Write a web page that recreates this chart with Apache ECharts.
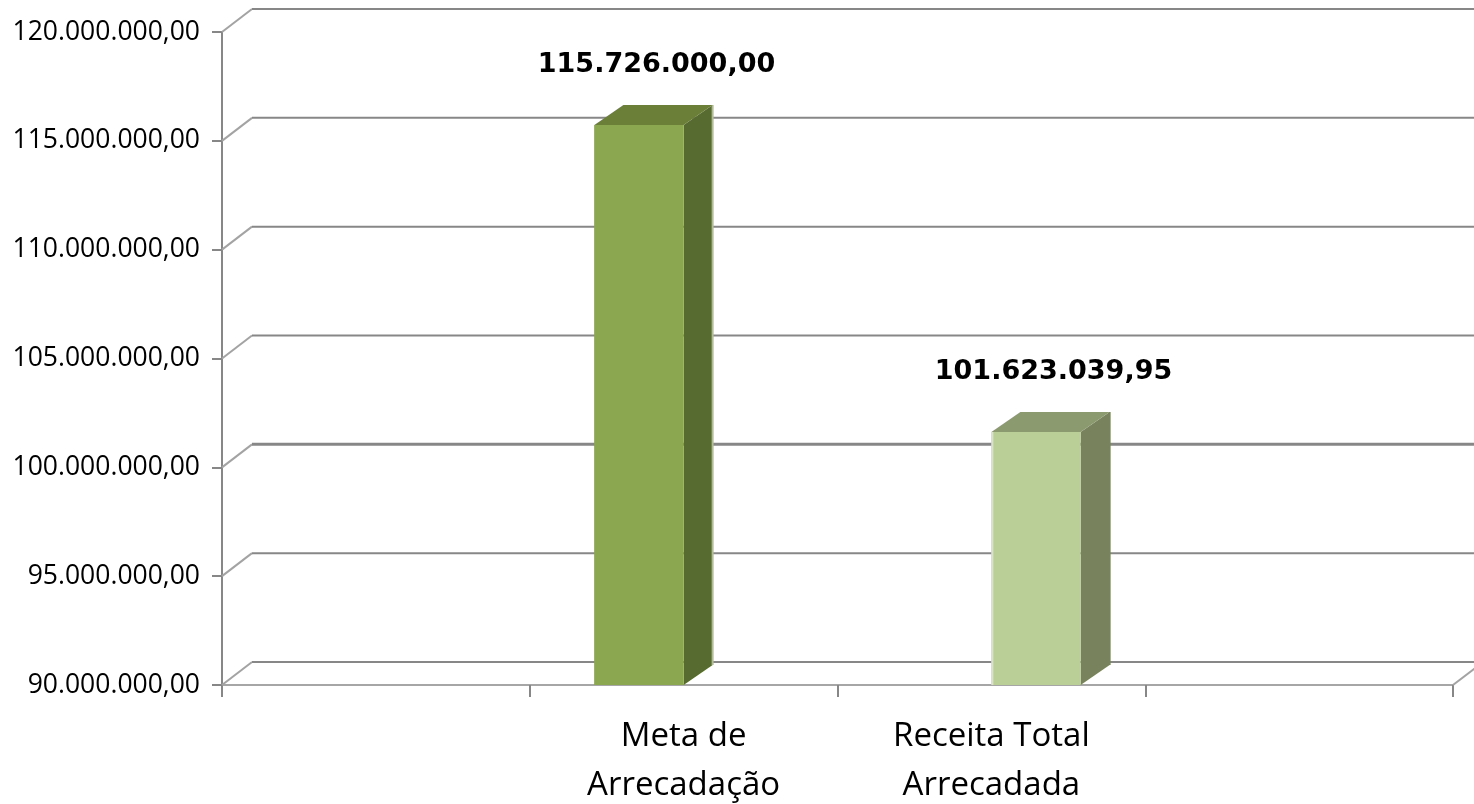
<!DOCTYPE html>
<html>
<head>
<meta charset="utf-8">
<script src="https://cdn.jsdelivr.net/npm/echarts@6/dist/echarts.min.js"></script>
<style>
  html, body { margin: 0; padding: 0; background: #fff; }
  #chart { width: 1474px; height: 804px; }
</style>
</head>
<body>
<div id="chart"></div>
<script>
// data
const categories = ['', 'Meta de\nArrecadação', 'Receita Total\nArrecadada', ''];
const metaValues = [null, 115726000.00, null, null];
const receitaValues = [null, null, 101623039.95, null];
const yTicks = [90000000, 95000000, 100000000, 105000000, 110000000, 115000000, 120000000];
const yMin = 90000000;
const yMax = 120000000;
const yStep = 5000000;

const chart = echarts.init(document.getElementById('chart'));

// 120.000.000,00 style
const fmt = (v) => {
    const parts = Number(v).toFixed(2).split('.');
    return parts[0].replace(/\B(?=(\d{3})+(?!\d))/g, '.') + ',' + parts[1];
};

const toPoints = (arr) => arr.map((v, i) => [i, v]).filter(p => p[1] !== null);

// perspective offsets
const WALL_DX = 30, WALL_DY = -23;
const BAR_DX = 29, BAR_DY = -20;

const renderWall = (params, api) => {
    const cs = params.coordSys;
    const y = api.coord([0, api.value(1)])[1];
    const bx = cs.x + WALL_DX, by = y + WALL_DY;
    const children = [
        { type: 'line', shape: { x1: cs.x, y1: y, x2: bx, y2: by },
          style: { stroke: '#a3a3a3', lineWidth: 2 } },
        { type: 'line', shape: { x1: bx, y1: by, x2: 1474, y2: by },
          style: { stroke: '#878787', lineWidth: api.value(1) === 100000000 ? 3 : 2 } }
    ];
    if (api.value(1) === yMin) {
        const rx = cs.x + cs.width;
        children.push({ type: 'line', shape: { x1: rx, y1: y, x2: rx + WALL_DX, y2: by },
            style: { stroke: '#a3a3a3', lineWidth: 2 } });
    }
    return { type: 'group', children };
};

const makeBarRenderer = (side, colors) => (params, api) => {
    const idx = api.value(0);
    const v = api.value(1);
    const top = api.coord([idx, v]);
    const base = api.coord([idx, yMin]);
    const w = api.size([1, 0])[0] * 0.29;
    const x0 = side < 0 ? top[0] - w : top[0];
    const x1 = x0 + w;
    const yt = top[1], yb = base[1];
    return {
        type: 'group',
        children: [
            { type: 'polygon', shape: { points: [[x1, yt], [x1 + BAR_DX, yt + BAR_DY], [x1 + BAR_DX, yb + BAR_DY], [x1, yb]] },
              style: { fill: colors.side } },
            { type: 'line', shape: { x1: x1 + BAR_DX, y1: yt + BAR_DY, x2: x1 + BAR_DX, y2: yb + BAR_DY },
              style: { stroke: colors.edge, lineWidth: 2 } },
            { type: 'polygon', shape: { points: [[x0, yt], [x0 + BAR_DX, yt + BAR_DY], [x1 + BAR_DX, yt + BAR_DY], [x1, yt]] },
              style: { fill: colors.top } },
            { type: 'rect', shape: { x: x0, y: yt, width: w, height: yb - yt },
              style: { fill: colors.front } },
            { type: 'line', shape: { x1: x0 + 1, y1: yt, x2: x0 + 1, y2: yb },
              style: { stroke: colors.light, lineWidth: 2 } },
            { type: 'text', x: x0 + (w + BAR_DX) / 2 + 3, y: yt + BAR_DY - 40,
              style: { text: fmt(v), fill: '#000', font: 'bold 27px "DejaVu Sans"',
                       align: 'center', verticalAlign: 'middle' } }
        ]
    };
};

const option = {
    animation: false,
    backgroundColor: '#fff',
    grid: { left: 222, right: 21, top: 32, bottom: 119, outerBoundsMode: 'none', containLabel: false },
    xAxis: {
        type: 'category',
        data: categories,
        boundaryGap: true,
        axisLine: { show: true, lineStyle: { color: '#a6a6a6', width: 2 } },
        axisTick: { show: true, length: 12, lineStyle: { color: '#878787', width: 2 } },
        axisLabel: {
            interval: 0, margin: 27, color: '#000',
            fontFamily: 'Open Sans', fontSize: 33, lineHeight: 49
        },
        splitLine: { show: false }
    },
    yAxis: {
        type: 'value',
        min: yMin, max: yMax, interval: yStep,
        axisLine: { show: true, lineStyle: { color: '#878787', width: 2 } },
        axisTick: { show: true, length: 10, lineStyle: { color: '#878787', width: 2 } },
        axisLabel: {
            margin: 22, color: '#000', fontFamily: 'Open Sans', fontSize: 26.5,
            padding: [6, 0, 0, 0],
            formatter: fmt
        },
        splitLine: { show: false }
    },
    series: [
        {
            type: 'custom', name: 'wall', z: 1, silent: true,
            renderItem: renderWall,
            data: yTicks.map(v => [0, v])
        },
        {
            type: 'custom', name: 'Meta de Arrecadação', z: 3,
            renderItem: makeBarRenderer(-1, { front: '#8ba74f', side: '#576a30', top: '#6b7f39', edge: '#b3bb9d', light: '#8ba74f' }),
            data: toPoints(metaValues)
        },
        {
            type: 'custom', name: 'Receita Total Arrecadada', z: 3,
            renderItem: makeBarRenderer(1, { front: '#bacf97', side: '#78835e', top: '#8c9a70', edge: '#78835e', light: '#d8e4c2' }),
            data: toPoints(receitaValues)
        }
    ]
};

chart.setOption(option);
</script>
</body>
</html>
